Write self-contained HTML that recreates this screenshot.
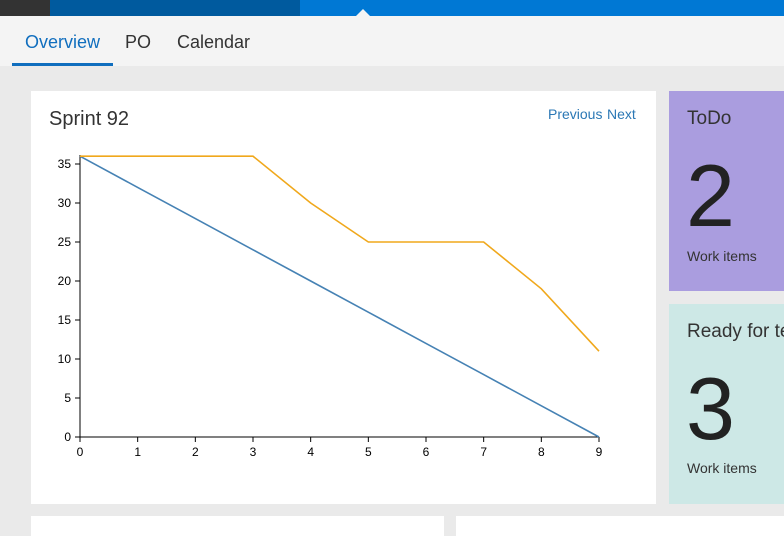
<!DOCTYPE html>
<html><head><meta charset="utf-8"><style>
body{margin:0;width:784px;height:532px;overflow:hidden;background:#eaeaea;font-family:"Liberation Sans",sans-serif;position:relative}
.abs{position:absolute}
</style></head><body>
<div class="abs" style="left:0;top:0;width:50px;height:16px;background:#333"></div>
<div class="abs" style="left:50px;top:0;width:250px;height:16px;background:#005a9e"></div>
<div class="abs" style="left:300px;top:0;width:484px;height:16px;background:#0078d4"></div>
<div class="abs" style="left:356px;top:9px;width:0;height:0;border-left:7px solid transparent;border-right:7px solid transparent;border-bottom:7px solid #f4f4f4"></div>
<div class="abs" style="left:0;top:16px;width:784px;height:50px;background:#f4f4f4"></div>
<div class="abs" style="left:25px;top:32px;font-size:18px;color:#106ebe">Overview</div>
<div class="abs" style="left:12px;top:63px;width:101px;height:3px;background:#106ebe"></div>
<div class="abs" style="left:125px;top:32px;font-size:18px;color:#333">PO</div>
<div class="abs" style="left:177px;top:32px;font-size:18px;color:#333">Calendar</div>

<div class="abs" style="left:31px;top:91px;width:625px;height:413px;background:#fff"></div>
<div class="abs" style="left:49px;top:108px;font-size:20px;color:#333">Sprint 92</div>
<div class="abs" style="left:548px;top:106px;width:56px;font-size:14px;color:#2b78b5;white-space:nowrap">Previous</div>
<div class="abs" style="left:607px;top:106px;font-size:14px;color:#2b78b5">Next</div>

<svg class="abs" style="left:0;top:0" width="784" height="532" id="chart"></svg>

<div class="abs" style="left:669px;top:91px;width:115px;height:200px;background:#aa9ddf"></div>
<div class="abs" style="left:687px;top:108px;font-size:19px;color:#333">ToDo</div>
<div class="abs" style="left:686px;top:152px;font-size:88px;color:#222;line-height:1">2</div>
<div class="abs" style="left:687px;top:248px;font-size:14px;color:#333">Work items</div>

<div class="abs" style="left:669px;top:304px;width:115px;height:200px;background:#cde8e6"></div>
<div class="abs" style="left:687px;top:321px;font-size:19px;color:#333;white-space:nowrap">Ready for test</div>
<div class="abs" style="left:686px;top:365px;font-size:88px;color:#222;line-height:1">3</div>
<div class="abs" style="left:687px;top:460px;font-size:14px;color:#333">Work items</div>

<div class="abs" style="left:31px;top:516px;width:413px;height:20px;background:#fff"></div>
<div class="abs" style="left:456px;top:516px;width:328px;height:20px;background:#fff"></div>

<script>
const days=[0,1,2,3,4,5,6,7,8,9];
const remaining=[36,36,36,36,30,25,25,25,19,11];
const ideal=[36,32,28,24,20,16,12,8,4,0];
const yTicks=[0,5,10,15,20,25,30,35];
const svg=document.getElementById('chart');
const NS='http://www.w3.org/2000/svg';
const x=d=>80+d*(519/9);
const y=v=>437-v*7.8;
function mk(t,a){const e=document.createElementNS(NS,t);for(const k in a)e.setAttribute(k,a[k]);svg.appendChild(e);return e;}
let e=mk('line',{x1:80,y1:155,x2:80,y2:437,stroke:'#000'});


e=mk('line',{x1:80,y1:437,x2:599,y2:437,stroke:'#000'});


yTicks.forEach(v=>{
 let t=mk('line',{x1:75,y1:y(v),x2:80,y2:y(v),stroke:'#000'});
 
 
 let l=mk('text',{x:71,y:y(v)+4,'text-anchor':'end','font-size':12,fill:'#000','font-family':'Liberation Sans'});
 l.textContent=v;
 
 
});
days.forEach(d=>{
 let t=mk('line',{x1:x(d),y1:437,x2:x(d),y2:442,stroke:'#000'});
 
 
 let l=mk('text',{x:x(d),y:456,'text-anchor':'middle','font-size':12,fill:'#000','font-family':'Liberation Sans'});
 l.textContent=d;
 
 
});
let p=mk('polyline',{points:days.map((d,i)=>x(d)+','+y(ideal[i])).join(' '),fill:'none',stroke:'#4682b4','stroke-width':1.6});


p=mk('polyline',{points:days.map((d,i)=>x(d)+','+y(remaining[i])).join(' '),fill:'none',stroke:'#f0a81c','stroke-width':1.6});


</script>
</body></html>
